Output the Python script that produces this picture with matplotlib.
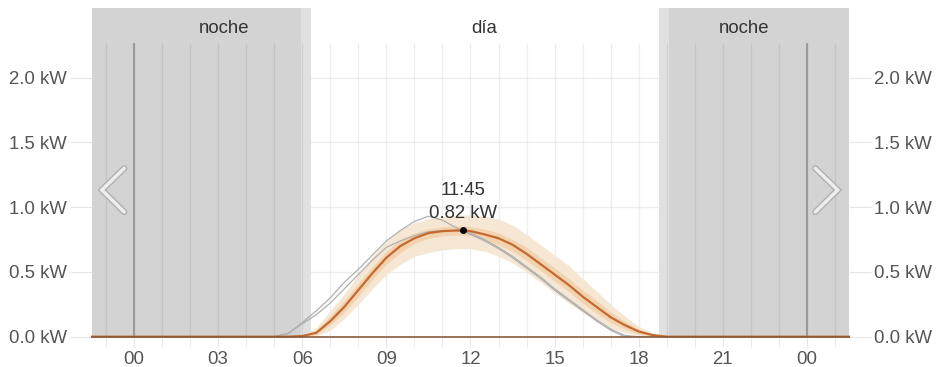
import matplotlib
matplotlib.use("Agg")
import matplotlib.pyplot as plt
import matplotlib.patheffects as pe

plt.rcParams['font.family'] = ['Liberation Sans', 'DejaVu Sans']

# horas del día (eje x) y potencia en kW
hours = [-1.5, 5.0, 5.5, 6.0, 6.5, 7.0, 7.5, 8.0, 8.5, 9.0, 9.5, 10.0, 10.5, 11.0,
         11.5, 12.0, 12.5, 13.0, 13.5, 14.0, 14.5, 15.0, 15.5, 16.0, 16.5, 17.0,
         17.5, 18.0, 18.5, 19.0, 19.5, 25.5]
main = [0, 0, 0, 0.005, 0.03, 0.12, 0.23, 0.36, 0.49, 0.61, 0.70, 0.76, 0.80, 0.815,
        0.82, 0.815, 0.79, 0.76, 0.71, 0.64, 0.56, 0.48, 0.40, 0.31, 0.23, 0.15,
        0.09, 0.04, 0.012, 0, 0, 0]
outer_hi = [0, 0, 0, 0.01, 0.07, 0.20, 0.33, 0.48, 0.62, 0.74, 0.83, 0.88, 0.91, 0.93,
            0.94, 0.94, 0.93, 0.91, 0.86, 0.79, 0.71, 0.63, 0.55, 0.45, 0.35, 0.25,
            0.16, 0.08, 0.03, 0.005, 0, 0]
outer_lo = [0, 0, 0, 0, 0.005, 0.05, 0.14, 0.25, 0.37, 0.48, 0.56, 0.62, 0.65, 0.67,
            0.68, 0.68, 0.66, 0.62, 0.57, 0.50, 0.42, 0.34, 0.26, 0.19, 0.12, 0.07,
            0.03, 0.01, 0, 0, 0, 0]
inner_hi = [0, 0, 0, 0.008, 0.05, 0.16, 0.28, 0.41, 0.54, 0.66, 0.75, 0.80, 0.83, 0.85,
            0.855, 0.85, 0.83, 0.80, 0.75, 0.69, 0.61, 0.53, 0.45, 0.36, 0.28, 0.19,
            0.12, 0.06, 0.02, 0.002, 0, 0]
inner_lo = [0, 0, 0, 0.002, 0.015, 0.09, 0.19, 0.31, 0.44, 0.56, 0.65, 0.72, 0.76, 0.78,
            0.785, 0.78, 0.75, 0.71, 0.66, 0.59, 0.51, 0.43, 0.35, 0.26, 0.18, 0.11,
            0.06, 0.02, 0.005, 0, 0, 0]
gray_a = [0, 0, 0.025, 0.11, 0.20, 0.30, 0.42, 0.52, 0.63, 0.74, 0.82, 0.89, 0.93, 0.90,
          0.84, 0.79, 0.74, 0.68, 0.61, 0.53, 0.45, 0.36, 0.28, 0.20, 0.12, 0.05,
          0, 0, 0, 0, 0, 0]
gray_b = [0, 0, 0.025, 0.10, 0.17, 0.26, 0.37, 0.48, 0.59, 0.69, 0.74, 0.78, 0.81, 0.82,
          0.82, 0.80, 0.75, 0.69, 0.62, 0.54, 0.46, 0.37, 0.29, 0.21, 0.13, 0.06,
          0.01, 0, 0, 0, 0, 0]

peak_hour = 11.75
peak_kw = 0.82

x_ticks = [0, 3, 6, 9, 12, 15, 18, 21, 24]
x_labels = ['00', '03', '06', '09', '12', '15', '18', '21', '00']
y_ticks = [0.0, 0.5, 1.0, 1.5, 2.0]
y_labels = ['0.0 kW', '0.5 kW', '1.0 kW', '1.5 kW', '2.0 kW']

# noche / crepúsculo
night1 = (-1.5, 5.95)
dawn = (5.95, 6.31)
dusk = (18.71, 19.07)
night2 = (19.07, 25.5)

fs = 13.4

fig = plt.figure(figsize=(9.36, 3.67), dpi=100)
ax = fig.add_axes([0.0983, 0.0826, 0.8087, 0.8956])
ax.set_xlim(-1.5, 25.5)
ax.set_ylim(0, 2.538)

grid_top = 2.27
for y in y_ticks:
    ax.axhline(y, color='#eeeeee', lw=1, zorder=0)

ax.axvspan(*night1, color='#d3d3d3', lw=0, zorder=1)
ax.axvspan(*night2, color='#d3d3d3', lw=0, zorder=1)
ax.axvspan(*dawn, color='#e0e0e0', lw=0, zorder=1)
ax.axvspan(*dusk, color='#e0e0e0', lw=0, zorder=1)

ax.vlines(range(-1, 26), 0, grid_top, color='black', alpha=0.065, lw=1, zorder=2)
ax.vlines([0, 24], 0, grid_top, color='#9a9a9a', lw=1.5, zorder=2)

ax.fill_between(hours, outer_lo, outer_hi, color='#f5e7d3', lw=0, zorder=3)
ax.fill_between(hours, inner_lo, inner_hi, color='#f0c598', alpha=0.6, lw=0, zorder=3)
ax.plot(hours, gray_a, color='#b0b0b0', lw=0.9, zorder=4)
ax.plot(hours, gray_b, color='#b0b0b0', lw=0.9, zorder=4)
ax.plot(hours, main, color='#c46a30', lw=1.6, zorder=5, clip_on=False)
ax.plot([-1.5, 25.5], [0, 0], color='#8a5a3a', lw=1.2, zorder=5, clip_on=False)

ax.plot(peak_hour, peak_kw, 'o', color='black', ms=4, zorder=6)
ax.text(peak_hour, 1.125, '11:45', ha='center', va='center',
        fontsize=fs, color='#333333', zorder=7)
ax.text(peak_hour, 0.95, '0.82 kW', ha='center', va='center',
        fontsize=fs, color='#333333', zorder=7)

ax.text(3.2, 2.38, 'noche', ha='center', va='center', fontsize=fs, color='#333333')
ax.text(12.5, 2.38, 'día', ha='center', va='center', fontsize=fs, color='#333333')
ax.text(21.75, 2.38, 'noche', ha='center', va='center', fontsize=fs, color='#333333')

# flechas de navegación
chev = [pe.Stroke(linewidth=4.5, foreground='#b0b0b0'), pe.Normal()]
ax.plot([-0.35, -1.15, -0.35], [1.30, 1.133, 0.963], color='#eeeeee', lw=2.5,
        solid_joinstyle='miter', solid_capstyle='round', path_effects=chev, zorder=8)
ax.plot([24.3, 25.1, 24.3], [1.30, 1.133, 0.963], color='#eeeeee', lw=2.5,
        solid_joinstyle='miter', solid_capstyle='round', path_effects=chev, zorder=8)

for s in ax.spines.values():
    s.set_visible(False)

ax.set_xticks(x_ticks)
ax.set_xticklabels(x_labels)
ax.set_xticks(range(-1, 26), minor=True)
ax.tick_params(axis='x', which='both', length=7, color='#e6e6e6', pad=3,
               labelsize=fs, labelcolor='#555555')
ax.set_yticks(y_ticks)
ax.set_yticklabels(y_labels)
ax.tick_params(axis='y', which='both', length=16, color='#e6e6e6', pad=2,
               labelsize=fs, labelcolor='#555555', right=True, labelright=True)

fig.savefig('out.png', dpi=100)
